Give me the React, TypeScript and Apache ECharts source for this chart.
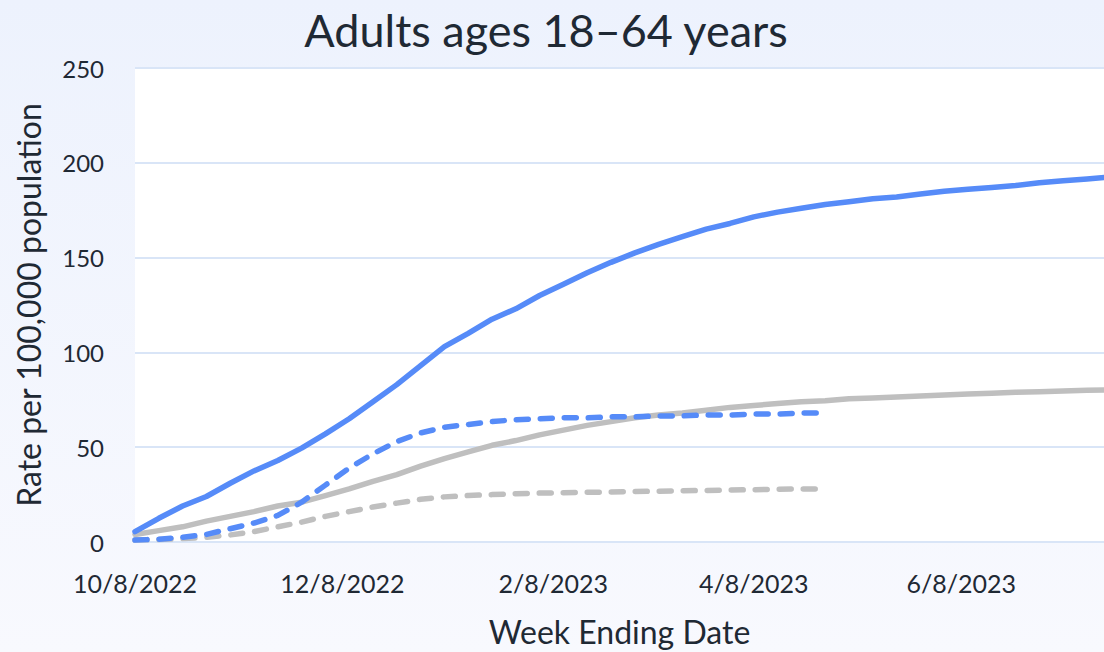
import React, { useEffect, useRef } from "react";
import * as echarts from "echarts";

const weekEnding = [
  "2022-10-08", "2022-10-15", "2022-10-22", "2022-10-29", "2022-11-05", "2022-11-12",
  "2022-11-19", "2022-11-26", "2022-12-03", "2022-12-10", "2022-12-17", "2022-12-24",
  "2022-12-31", "2023-01-07", "2023-01-14", "2023-01-21", "2023-01-28", "2023-02-04",
  "2023-02-11", "2023-02-18", "2023-02-25", "2023-03-04", "2023-03-11", "2023-03-18",
  "2023-03-25", "2023-04-01", "2023-04-08", "2023-04-15", "2023-04-22", "2023-04-29",
  "2023-05-06", "2023-05-13", "2023-05-20", "2023-05-27", "2023-06-03", "2023-06-10",
  "2023-06-17", "2023-06-24", "2023-07-01", "2023-07-08", "2023-07-15", "2023-07-22",
];

const blueSolid = [
  5.5, 12.5, 19, 24, 31, 37.5, 43, 49.5, 57, 65, 74, 83, 93, 103, 110, 117.5, 123, 130,
  136, 142, 147.5, 152.5, 157, 161, 165, 168, 171.5, 174, 176, 178, 179.5, 181, 182,
  183.5, 185, 186, 187, 188, 189.5, 190.5, 191.5, 192.5,
];

const graySolid = [
  4, 6, 8, 11, 13.5, 16, 19, 21, 24.5, 28, 32, 35.5, 40, 44, 47.5, 51, 53.5, 56.5, 59,
  61.5, 63.5, 65.5, 67, 68, 69.5, 71, 72, 73, 74, 74.5, 75.5, 76, 76.5, 77, 77.5, 78,
  78.5, 79, 79.3, 79.6, 80, 80.3,
];

const blueDashed = [
  1, 1.5, 2.5, 4, 7, 10, 14, 21, 30, 39, 46.5, 53, 57.5, 60.5, 62, 63.5, 64.5, 65, 65.5,
  65.5, 66, 66, 66.5, 66.5, 67, 67, 67.5, 67.5, 68, 68,
];

const grayDashed = [
  1, 1.3, 1.8, 2.5, 3.7, 5.5, 8, 10.5, 13.5, 16, 18.5, 20.5, 22.5, 23.8, 24.5, 25, 25.5,
  25.8, 26, 26.2, 26.4, 26.6, 26.8, 27, 27.2, 27.4, 27.6, 27.8, 28, 28,
];

const xTickDates = ["2022-10-08", "2022-12-08", "2023-02-08", "2023-04-08", "2023-06-08"];
const xMinDate = "2022-10-08";
const xMaxDate = "2023-07-20";
const yTicks = [0, 50, 100, 150, 200, 250];

const titleText = "Adults ages 18–64 years";
const yName = "Rate per 100,000 population";
const xName = "Week Ending Date";

function ts(d: string): number {
  const [y, m, day] = d.split("-").map(Number);
  return Date.UTC(y, m - 1, day);
}

function pairs(values: number[]): [number, number][] {
  return values.map((v, i) => [ts(weekEnding[i]), v]);
}

const FONT = "Lato, 'Open Sans', sans-serif";
const TEXT = "#1f2934";
const BLUE = "#568bf8";
const GRAY = "#bfbfbf";

export default function App() {
  const ref = useRef<HTMLDivElement>(null);

  useEffect(() => {
    if (!ref.current) return;
    const chart = echarts.init(ref.current, undefined, { renderer: "svg" });
    chart.setOption({
      animation: false,
      backgroundColor: new echarts.graphic.LinearGradient(0, 0, 0, 1, [
        { offset: 0, color: "#edf2fd" },
        { offset: 1, color: "#f8f9fe" },
      ]),
      title: {
        text: titleText,
        left: 541,
        top: 2,
        textAlign: "center",
        textStyle: { fontFamily: FONT, fontSize: 45, fontWeight: "normal", color: TEXT },
      },
      grid: {
        left: 135,
        right: 0,
        top: 68,
        bottom: 110,
        show: true,
        backgroundColor: "#ffffff",
        borderWidth: 0,
      },
      xAxis: {
        type: "value",
        min: ts(xMinDate),
        max: ts(xMaxDate),
        name: xName,
        nameLocation: "middle",
        nameGap: 73,
        nameTextStyle: { fontFamily: FONT, fontSize: 32, color: TEXT },
        axisLine: { show: false },
        axisTick: { show: false },
        splitLine: { show: false },
        axisLabel: {
          customValues: xTickDates.map(ts),
          margin: 28,
          fontFamily: FONT,
          fontSize: 25,
          color: TEXT,
          hideOverlap: false,
          formatter: (v: number) => {
            const d = new Date(v);
            return `${d.getUTCMonth() + 1}/${d.getUTCDate()}/${d.getUTCFullYear()}`;
          },
        },
      },
      yAxis: {
        type: "value",
        min: yTicks[0],
        max: yTicks[yTicks.length - 1],
        interval: 50,
        name: yName,
        nameLocation: "middle",
        nameGap: 91,
        nameRotate: 90,
        nameTextStyle: { fontFamily: FONT, fontSize: 32, color: TEXT },
        axisLine: { show: false },
        axisTick: { show: false },
        axisLabel: { margin: 31, fontFamily: FONT, fontSize: 24, color: TEXT },
        splitLine: { show: true, lineStyle: { color: "#d9e5f7", width: 2 } },
      },
      series: [
        {
          name: "grayDashed",
          type: "line",
          data: pairs(grayDashed),
          showSymbol: false,
          lineStyle: { color: GRAY, width: 5.5, type: [12, 12], cap: "round" },
          z: 2,
        },
        {
          name: "graySolid",
          type: "line",
          data: pairs(graySolid),
          showSymbol: false,
          lineStyle: { color: GRAY, width: 5.5, cap: "round", join: "round" },
          z: 3,
        },
        {
          name: "blueDashed",
          type: "line",
          data: pairs(blueDashed),
          showSymbol: false,
          lineStyle: { color: BLUE, width: 5.5, type: [12, 12], cap: "round" },
          z: 4,
        },
        {
          name: "blueSolid",
          type: "line",
          data: pairs(blueSolid),
          showSymbol: false,
          lineStyle: { color: BLUE, width: 5.5, cap: "round", join: "round" },
          z: 5,
        },
      ],
    });
    return () => chart.dispose();
  }, []);

  return (
    <div
      ref={ref}
      style={{ position: "absolute", left: 0, top: 0, width: 1104, height: 652 }}
    />
  );
}
